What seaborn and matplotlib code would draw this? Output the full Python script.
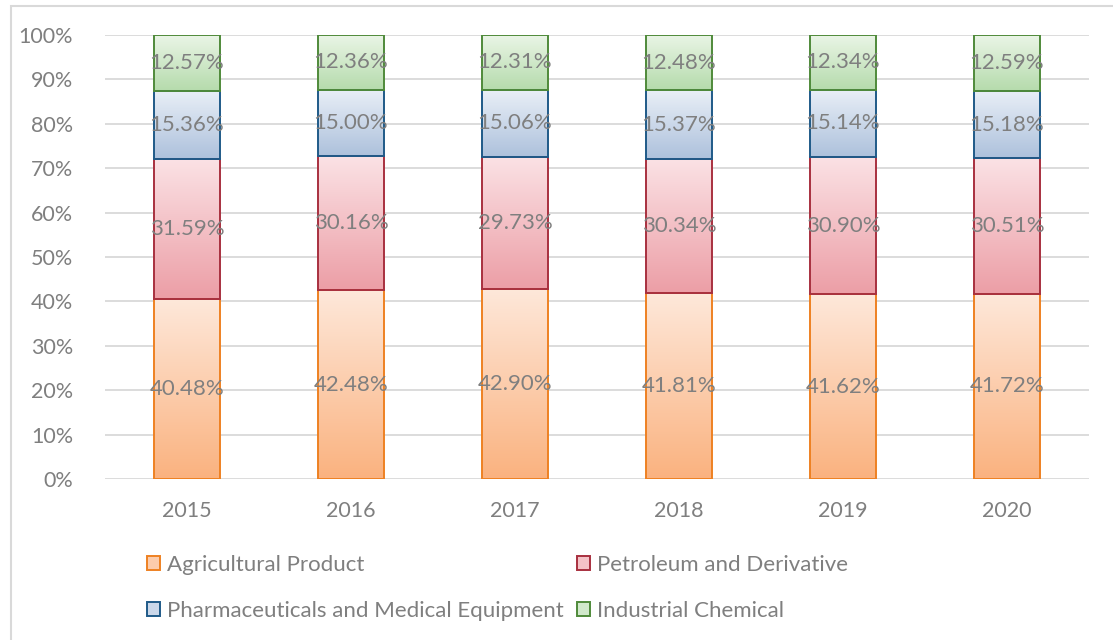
import numpy as np
import pandas as pd
import matplotlib
matplotlib.use("Agg")
import matplotlib.pyplot as plt
import matplotlib.colors as mcolors
from matplotlib.patches import Patch, Rectangle
import seaborn as sns

years = ["2015", "2016", "2017", "2018", "2019", "2020"]
series = ["Agricultural Product", "Petroleum and Derivative",
          "Pharmaceuticals and Medical Equipment", "Industrial Chemical"]
agri = [40.48, 42.48, 42.90, 41.81, 41.62, 41.72]
petro = [31.59, 30.16, 29.73, 30.34, 30.90, 30.51]
pharma = [15.36, 15.00, 15.06, 15.37, 15.14, 15.18]
indus = [12.57, 12.36, 12.31, 12.48, 12.34, 12.59]
values = [agri, petro, pharma, indus]

top_cols = ["#FEE8DA", "#FBE2E5", "#E9EFF7", "#EAF5E6"]
bot_cols = ["#FAB27F", "#EC9EA6", "#ADC1DC", "#B5DBAC"]
edge_cols = ["#EE8122", "#A8303F", "#1F5A88", "#4F8A3A"]
leg_cols = ["#FCCCAC", "#F4C2C7", "#CBD8EA", "#D1E9CB"]

sns.set_theme(style="white")
plt.rcParams["font.family"] = ["Lato", "DejaVu Sans"]
txt_col = "#7F7F7F"
fs = 16
fs_tick = 15.5

fig = plt.figure(figsize=(11.13, 6.4), dpi=100)
ax = fig.add_axes([105 / 1113, 1 - 479 / 640, (1089 - 105) / 1113, (479 - 35) / 640])

# outer chart border
fig.patches.append(Rectangle((11 / 1113, -0.05), 1.1, 1 - 6 / 640 + 0.05,
                             transform=fig.transFigure, fill=False,
                             edgecolor="#D9D9D9", linewidth=1.5, zorder=0))

bottoms = np.zeros(len(years))
for i, (name, vals) in enumerate(zip(series, values)):
    df = pd.DataFrame({"year": years, "val": np.array(vals) / 100.0})
    n_before = len(ax.patches)
    sns.barplot(data=df, x="year", y="val", ax=ax, width=0.40,
                color=leg_cols[i], saturation=1, errorbar=None, zorder=3)
    new_patches = ax.patches[n_before:]
    cmap = mcolors.LinearSegmentedColormap.from_list("g%d" % i, [bot_cols[i], top_cols[i]])
    grad = np.linspace(1, 0, 256).reshape(-1, 1)
    for j, p in enumerate(new_patches):
        p.set_y(bottoms[j])
        p.set_facecolor("none")
        p.set_edgecolor(edge_cols[i])
        p.set_linewidth(1.4)
        p.set_zorder(4)
        x0 = p.get_x()
        w = p.get_width()
        y0 = p.get_y()
        h = p.get_height()
        ax.imshow(grad, cmap=cmap, aspect="auto", origin="upper",
                  extent=(x0, x0 + w, y0, y0 + h), zorder=3,
                  interpolation="bilinear", vmin=0, vmax=1)
        ax.text(x0 + w / 2, y0 + h / 2, f"{vals[j]:.2f}%", ha="center",
                va="center", color=txt_col, fontsize=fs, zorder=5)
    bottoms = bottoms + np.array(vals) / 100.0

ax.set_xlim(-0.5, len(years) - 0.5)
ax.set_ylim(0, 1)
ax.set_yticks(np.arange(0, 1.01, 0.1))
ax.set_yticklabels([f"{int(round(t * 100))}%" for t in np.arange(0, 1.01, 0.1)])
ax.set_xlabel("")
ax.set_ylabel("")
ax.grid(axis="y", color="#D9D9D9", linewidth=1.3, zorder=0)
ax.set_axisbelow(True)
for s in ax.spines.values():
    s.set_visible(False)
ax.tick_params(axis="y", length=0, pad=23, labelsize=fs_tick, labelcolor=txt_col)
ax.tick_params(axis="x", length=0, pad=16, labelsize=fs_tick, labelcolor=txt_col)

handles = [Patch(facecolor=leg_cols[i], edgecolor=edge_cols[i], linewidth=1.4) for i in range(4)]
order = [0, 2, 1, 3]
leg = fig.legend([handles[k] for k in order], [series[k] for k in order],
                 ncol=2, loc="upper left", bbox_to_anchor=(147 / 1113, 1 - 555 / 640),
                 frameon=False, fontsize=fs, handlelength=0.6, handleheight=0.6,
                 handletextpad=0.3, columnspacing=0.6, labelspacing=1.17,
                 borderaxespad=0, borderpad=0)
for t in leg.get_texts():
    t.set_color(txt_col)

fig.savefig("out.png", dpi=100)
